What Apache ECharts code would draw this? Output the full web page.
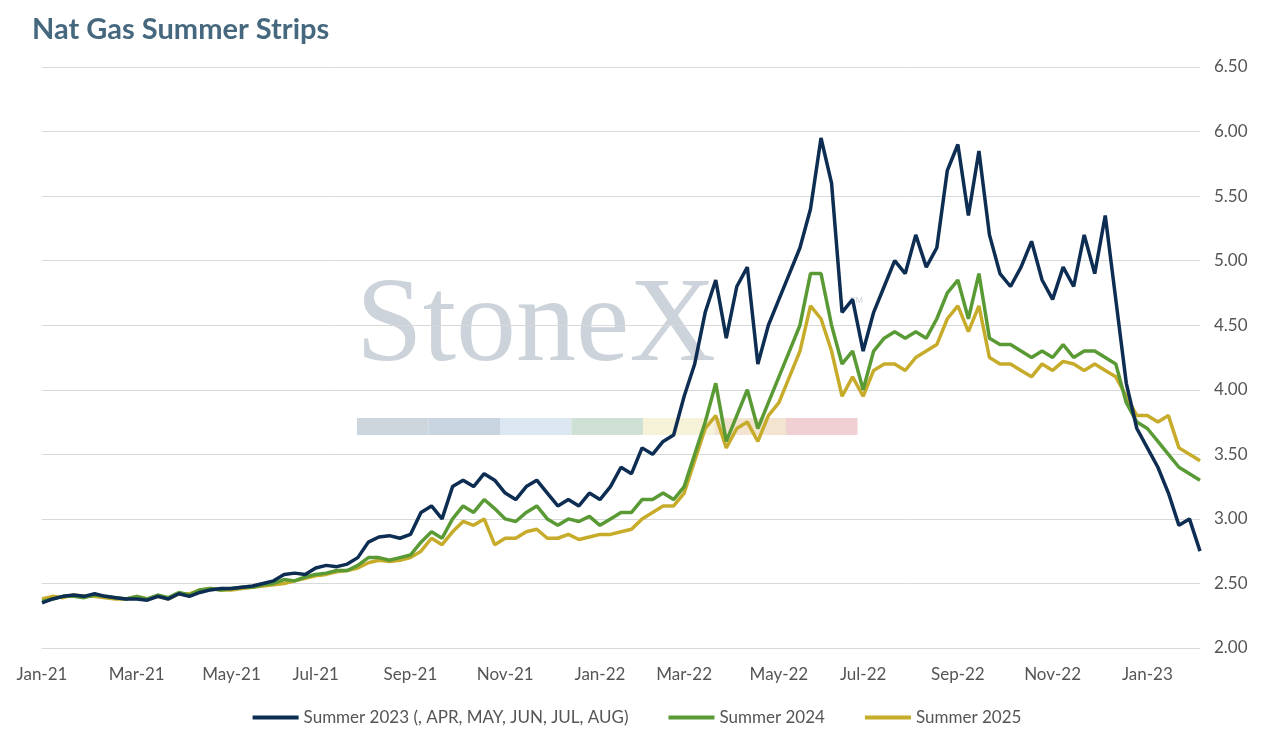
<!DOCTYPE html>
<html>
<head>
<meta charset="utf-8">
<script src="https://cdn.jsdelivr.net/npm/echarts@6/dist/echarts.min.js"></script>
<style>html,body{margin:0;padding:0;background:#fff}#c{width:1274px;height:739px}</style>
</head>
<body>
<div id="c"></div>
<script>
// weekly points, Fridays from 1 Jan 2021
var summer2023 = [
  2.35,2.38,2.40,2.41,2.40,2.42,2.40,2.39,2.38,
  2.38,2.37,2.40,2.38,2.42,2.40,2.43,2.45,2.46,
  2.46,2.47,2.48,2.50,2.52,2.57,2.58,2.57,2.62,
  2.64,2.63,2.65,2.70,2.82,2.86,2.87,2.85,2.88,
  3.05,3.10,3.00,3.25,3.30,3.25,3.35,3.30,3.20,
  3.15,3.25,3.30,3.20,3.10,3.15,3.10,3.20,3.15,
  3.25,3.40,3.35,3.55,3.50,3.60,3.65,3.95,
  4.20,4.60,4.85,4.40,4.80,4.95,4.20,4.50,4.70,
  4.90,5.10,5.40,5.95,5.60,4.60,4.70,4.30,
  4.60,4.80,5.00,4.90,5.20,4.95,5.10,5.70,5.90,
  5.35,5.85,5.20,4.90,4.80,4.95,5.15,4.85,4.70,
  4.95,4.80,5.20,4.90,5.35,4.70,4.05,3.70,3.55,3.40,3.20,2.95,3.00,2.75
];
var summer2024 = [
  2.36,2.38,2.40,2.40,2.39,2.41,2.40,2.39,2.38,
  2.40,2.38,2.41,2.39,2.43,2.41,2.45,2.46,2.45,
  2.46,2.47,2.47,2.49,2.50,2.53,2.52,2.55,2.57,
  2.58,2.60,2.60,2.64,2.70,2.70,2.68,2.70,2.72,
  2.82,2.90,2.85,3.00,3.10,3.05,3.15,3.08,3.00,
  2.98,3.05,3.10,3.00,2.95,3.00,2.98,3.02,2.95,
  3.00,3.05,3.05,3.15,3.15,3.20,3.15,3.25,
  3.50,3.75,4.05,3.60,3.80,4.00,3.70,3.90,4.10,
  4.30,4.50,4.90,4.90,4.50,4.20,4.30,4.00,
  4.30,4.40,4.45,4.40,4.45,4.40,4.55,4.75,4.85,
  4.55,4.90,4.40,4.35,4.35,4.30,4.25,4.30,4.25,
  4.35,4.25,4.30,4.30,4.25,4.20,3.90,3.75,3.70,3.60,3.50,3.40,3.35,3.30
];
var summer2025 = [
  2.38,2.40,2.39,2.41,2.40,2.40,2.39,2.38,2.38,
  2.40,2.38,2.40,2.38,2.42,2.42,2.45,2.46,2.45,
  2.45,2.46,2.47,2.48,2.49,2.50,2.52,2.54,2.56,
  2.57,2.59,2.60,2.62,2.66,2.68,2.67,2.68,2.70,
  2.75,2.85,2.80,2.90,2.98,2.95,3.00,2.80,2.85,
  2.85,2.90,2.92,2.85,2.85,2.88,2.84,2.86,2.88,
  2.88,2.90,2.92,3.00,3.05,3.10,3.10,3.20,
  3.45,3.70,3.80,3.55,3.70,3.75,3.60,3.80,3.90,
  4.10,4.30,4.65,4.55,4.30,3.95,4.10,3.95,
  4.15,4.20,4.20,4.15,4.25,4.30,4.35,4.55,4.65,
  4.45,4.65,4.25,4.20,4.20,4.15,4.10,4.20,4.15,
  4.22,4.20,4.15,4.20,4.15,4.10,3.95,3.80,3.80,3.75,3.80,3.55,3.50,3.45
];
var seriesNames = ['Summer 2023 (, APR, MAY, JUN, JUL, AUG)', 'Summer 2024', 'Summer 2025'];
var seriesColors = ['#0d2d52', '#5a9a35', '#c6ac2a'];
var monthNames = ['Jan','Feb','Mar','Apr','May','Jun','Jul','Aug','Sep','Oct','Nov','Dec'];

var dates = [];
var start = new Date(2021, 0, 1);
for (var i = 0; i < summer2023.length; i++) {
  var d = new Date(start.getTime());
  d.setDate(d.getDate() + i * 7);
  dates.push(d);
}
var cats = dates.map(function(d){ return d.getFullYear() + '-' + (d.getMonth()+1) + '-' + d.getDate(); });
function showLabel(idx) {
  var d = dates[idx];
  return d.getMonth() % 2 === 0 && d.getDate() <= 7;
}

var chart = echarts.init(document.getElementById('c'));
var bars = ['#cdd5dd','#c8d5e1','#dce7f1','#cfe0d5','#f6f2d8','#f2e4d0','#f1d0d3'];
var graphic = [{
  type: 'text', left: 32, top: 15,
  style: { text: 'Nat Gas Summer Strips', fill: '#46687f', font: 'bold 29px Lato, sans-serif' }
}, {
  type: 'text', left: 356, top: 268, z: 0,
  style: { text: 'StoneX', fill: '#cdd3da', font: '120px "Liberation Serif", serif' }
}, {
  type: 'text', left: 850, top: 296, z: 0,
  style: { text: 'TM', fill: '#cdd3da', font: '9px sans-serif' }
}];
bars.forEach(function(c, k){
  graphic.push({ type: 'rect', shape: { x: 357 + k * 71.5, y: 418, width: 71.5, height: 17 }, style: { fill: c }, z: 0 });
});

chart.setOption({
  animation: false,
  graphic: graphic,
  grid: { left: 42, right: 74, top: 67, bottom: 91 },
  legend: {
    bottom: 8, itemGap: 40, icon: 'rect', itemWidth: 46, itemHeight: 4,
    textStyle: { color: '#555', fontSize: 17, fontFamily: 'Lato, sans-serif' },
    data: seriesNames
  },
  xAxis: {
    type: 'category', data: cats, boundaryGap: false,
    axisLine: { show: true, lineStyle: { color: '#d9d9d9' } },
    axisTick: { show: false },
    axisLabel: {
      interval: function(idx){ return showLabel(idx); },
      formatter: function(v, idx){ var d = dates[idx]; return monthNames[d.getMonth()] + '-' + String(d.getFullYear()).slice(2); },
      color: '#555', fontSize: 17, margin: 18, fontFamily: 'Lato, sans-serif'
    }
  },
  yAxis: {
    type: 'value', position: 'right', min: 2, max: 6.5, interval: 0.5,
    axisLine: { show: false }, axisTick: { show: false },
    splitLine: { lineStyle: { color: '#d9d9d9' } },
    axisLabel: { formatter: function(v){ return v.toFixed(2); }, color: '#555', fontSize: 17, margin: 14, fontFamily: 'Lato, sans-serif' }
  },
  series: [summer2023, summer2024, summer2025].map(function(arr, k){
    return { name: seriesNames[k], type: 'line', data: arr, showSymbol: false, z: 5 - k,
      lineStyle: { color: seriesColors[k], width: 3.5 }, itemStyle: { color: seriesColors[k] } };
  })
});
</script>
</body>
</html>
